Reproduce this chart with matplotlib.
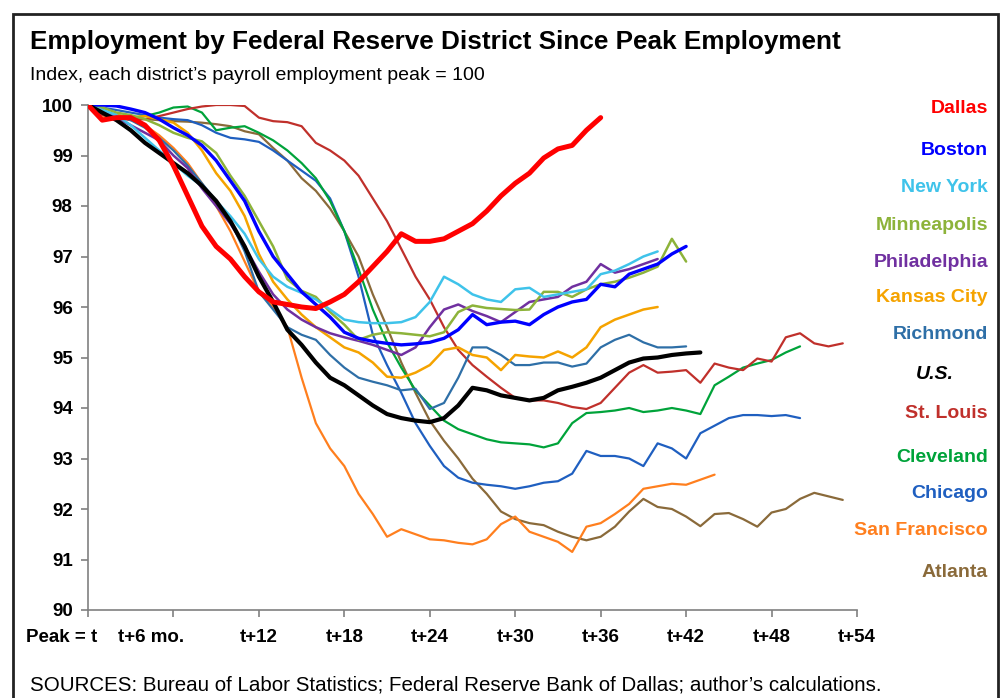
import matplotlib

matplotlib.use("Agg")
import matplotlib.pyplot as plt
from matplotlib.patches import Rectangle
from matplotlib.transforms import blended_transform_factory

plt.rcParams["font.family"] = ["Liberation Sans", "DejaVu Sans"]

# index values by month since peak (month 0 = peak)
dallas = [100, 99.7, 99.75, 99.75, 99.6, 99.3, 98.8, 98.2, 97.6, 97.2, 96.95, 96.6, 96.3,
          96.1, 96.05, 96.0, 95.97, 96.1, 96.25, 96.5, 96.8, 97.1, 97.45, 97.3, 97.3, 97.35,
          97.5, 97.65, 97.9, 98.2, 98.45, 98.65, 98.95, 99.13, 99.2, 99.5, 99.75]
boston = [100, 100, 99.98, 99.92, 99.85, 99.72, 99.55, 99.4, 99.2, 98.9, 98.5, 98.1, 97.5,
          97.0, 96.65, 96.3, 96.05, 95.8, 95.5, 95.38, 95.32, 95.28, 95.25, 95.27, 95.3, 95.38,
          95.55, 95.85, 95.65, 95.7, 95.72, 95.65, 95.85, 96.0, 96.1, 96.15, 96.45, 96.4,
          96.65, 96.75, 96.85, 97.05, 97.2]
new_york = [100, 99.9, 99.8, 99.6, 99.35, 99.1, 98.85, 98.6, 98.4, 98.1, 97.8, 97.45, 96.95,
            96.6, 96.4, 96.28, 96.15, 95.95, 95.75, 95.7, 95.68, 95.68, 95.7, 95.8, 96.1, 96.6,
            96.45, 96.25, 96.15, 96.1, 96.35, 96.38, 96.2, 96.25, 96.3, 96.35, 96.65, 96.72,
            96.85, 97.0, 97.1]
minneapolis = [100, 99.95, 99.85, 99.8, 99.72, 99.6, 99.45, 99.35, 99.28, 99.05, 98.6, 98.2,
               97.7, 97.2, 96.55, 96.32, 96.2, 95.9, 95.65, 95.35, 95.45, 95.5, 95.48, 95.45,
               95.42, 95.5, 95.9, 96.03, 95.98, 95.96, 95.94, 95.95, 96.3, 96.3, 96.2, 96.35,
               96.45, 96.5, 96.58, 96.68, 96.8, 97.35, 96.9]
philadelphia = [100, 99.9, 99.75, 99.6, 99.45, 99.3, 99.0, 98.75, 98.35, 98.0, 97.65, 97.2,
                96.7, 96.25, 95.95, 95.75, 95.6, 95.48, 95.4, 95.33, 95.25, 95.15, 95.05, 95.2,
                95.6, 95.95, 96.05, 95.92, 95.82, 95.7, 95.9, 96.1, 96.15, 96.2, 96.4, 96.5,
                96.85, 96.68, 96.75, 96.85, 96.95]
kansas_city = [100, 99.85, 99.8, 99.75, 99.78, 99.72, 99.65, 99.45, 99.1, 98.65, 98.3, 97.8,
               97.05, 96.5, 96.15, 95.85, 95.6, 95.4, 95.2, 95.1, 94.9, 94.62, 94.6, 94.7,
               94.85, 95.15, 95.2, 95.05, 95.0, 94.75, 95.05, 95.02, 95.0, 95.12, 95.0, 95.2,
               95.6, 95.75, 95.85, 95.95, 96.0]
richmond = [100, 99.9, 99.8, 99.7, 99.55, 99.35, 99.1, 98.8, 98.45, 98.1, 97.7, 97.1, 96.3,
            95.95, 95.6, 95.45, 95.35, 95.05, 94.8, 94.6, 94.52, 94.45, 94.35, 94.38, 93.98,
            94.1, 94.6, 95.2, 95.2, 95.05, 94.85, 94.85, 94.9, 94.9, 94.82, 94.88, 95.2, 95.35,
            95.45, 95.3, 95.2, 95.2, 95.22]
us = [100, 99.85, 99.7, 99.5, 99.25, 99.05, 98.85, 98.65, 98.4, 98.1, 97.7, 97.2, 96.6, 96.1,
      95.55, 95.25, 94.9, 94.6, 94.45, 94.25, 94.05, 93.88, 93.8, 93.75, 93.72, 93.8, 94.05,
      94.4, 94.35, 94.25, 94.2, 94.15, 94.2, 94.35, 94.42, 94.5, 94.6, 94.75, 94.9, 94.98,
      95.0, 95.05, 95.08, 95.1]
st_louis = [100, 99.8, 99.75, 99.7, 99.72, 99.78, 99.85, 99.92, 99.97, 100, 100, 99.98, 99.75,
            99.68, 99.66, 99.58, 99.25, 99.1, 98.9, 98.6, 98.15, 97.7, 97.15, 96.6, 96.15, 95.6,
            95.15, 94.85, 94.62, 94.4, 94.2, 94.15, 94.15, 94.1, 94.02, 93.98, 94.1, 94.4, 94.7,
            94.85, 94.7, 94.72, 94.75, 94.5, 94.88, 94.8, 94.75, 94.98, 94.92, 95.4, 95.48,
            95.28, 95.22, 95.28]
cleveland = [100, 99.85, 99.75, 99.75, 99.78, 99.85, 99.95, 99.97, 99.85, 99.5, 99.55, 99.58,
             99.45, 99.3, 99.1, 98.85, 98.55, 98.1, 97.5, 96.75, 95.95, 95.3, 94.8, 94.35,
             94.05, 93.75, 93.58, 93.48, 93.38, 93.32, 93.3, 93.28, 93.22, 93.3, 93.7, 93.9,
             93.92, 93.95, 94.0, 93.92, 93.95, 94.0, 93.95, 93.88, 94.45, 94.62, 94.8, 94.88,
             94.95, 95.1, 95.22]
chicago = [100, 99.95, 99.9, 99.85, 99.8, 99.75, 99.72, 99.7, 99.6, 99.45, 99.35, 99.32,
           99.27, 99.1, 98.9, 98.7, 98.5, 98.15, 97.5, 96.6, 95.45, 94.85, 94.3, 93.7, 93.25,
           92.85, 92.62, 92.52, 92.48, 92.45, 92.4, 92.45, 92.52, 92.55, 92.7, 93.15, 93.05,
           93.05, 93.0, 92.85, 93.3, 93.2, 93.0, 93.5, 93.65, 93.8, 93.86, 93.86, 93.84, 93.86,
           93.8]
san_francisco = [100, 99.75, 99.8, 99.75, 99.6, 99.4, 99.15, 98.85, 98.45, 98.0, 97.5, 96.9,
                 96.3, 96.0, 95.6, 94.6, 93.7, 93.2, 92.85, 92.3, 91.9, 91.45, 91.6, 91.5,
                 91.4, 91.38, 91.33, 91.3, 91.4, 91.7, 91.85, 91.55, 91.45, 91.35, 91.15, 91.65,
                 91.72, 91.9, 92.1, 92.4, 92.45, 92.5, 92.48, 92.58, 92.68]
atlanta = [100, 99.85, 99.8, 99.75, 99.72, 99.7, 99.68, 99.67, 99.65, 99.62, 99.58, 99.48,
           99.42, 99.15, 98.9, 98.55, 98.3, 97.95, 97.5, 97.0, 96.25, 95.6, 94.9, 94.3, 93.75,
           93.35, 93.0, 92.6, 92.3, 91.95, 91.8, 91.72, 91.68, 91.55, 91.45, 91.38, 91.45,
           91.65, 91.95, 92.2, 92.04, 92.0, 91.85, 91.66, 91.9, 91.92, 91.8, 91.65, 91.93,
           92.0, 92.2, 92.32, 92.25, 92.18]

x_labels = ["Peak = t", "t+6 mo.", "t+12", "t+18", "t+24", "t+30", "t+36", "t+42", "t+48", "t+54"]
y_ticks = [90, 91, 92, 93, 94, 95, 96, 97, 98, 99, 100]

# name, values, colour, line width, label y (data units)
series = [
    ("Atlanta", atlanta, "#8A6A3A", 1.6, 90.75),
    ("San Francisco", san_francisco, "#FF7F1E", 1.6, 91.58),
    ("Chicago", chicago, "#1F5FC0", 1.6, 92.3),
    ("Cleveland", cleveland, "#00A33A", 1.6, 93.01),
    ("St. Louis", st_louis, "#C0302B", 1.6, 93.9),
    ("Richmond", richmond, "#2E6FA7", 1.6, 95.45),
    ("Kansas City", kansas_city, "#F5A300", 1.8, 96.18),
    ("Philadelphia", philadelphia, "#7030A0", 1.8, 96.89),
    ("Minneapolis", minneapolis, "#8DB33A", 1.8, 97.62),
    ("New York", new_york, "#3FC3EA", 1.8, 98.36),
    ("Boston", boston, "#0000FF", 2.4, 99.09),
    ("U.S.", us, "#000000", 3.0, 94.67),
    ("Dallas", dallas, "#FF0000", 3.6, 99.94),
]

fig = plt.figure(figsize=(10.03, 6.98), dpi=100)
W, H = 1003, 698
ax = fig.add_axes([88 / W, 1 - 610 / H, (857 - 88) / W, (610 - 105) / H])

for name, vals, color, lw, _ in series:
    ax.plot(range(len(vals)), vals, color=color, lw=lw, solid_joinstyle="round",
            solid_capstyle="round", zorder=3)

ax.set_xlim(0, 54)
ax.set_ylim(90, 100)
ax.set_yticks(y_ticks)
ax.set_yticklabels([str(v) for v in y_ticks], fontsize=13.5, fontweight="bold")
ax.set_xticks(range(0, 55, 6))
ax.set_xticklabels([])
for side in ("top", "right"):
    ax.spines[side].set_visible(False)
for side in ("left", "bottom"):
    ax.spines[side].set_color("#808080")
    ax.spines[side].set_linewidth(1.2)
ax.tick_params(axis="both", color="#808080", length=5, width=1.2, direction="out", pad=6)

# x labels (first two sit left of their ticks in the original)
label_x = [-1.85, 4.4, 12, 18, 24, 30, 36, 42, 48, 54]
xtr = blended_transform_factory(ax.transData, fig.transFigure)
for lx, lab in zip(label_x, x_labels):
    ax.text(lx, 1 - 637 / H, lab, transform=xtr, ha="center", va="center",
            fontsize=13.5, fontweight="bold", clip_on=False)

# district labels on the right
rtr = blended_transform_factory(fig.transFigure, ax.transData)
for name, vals, color, lw, ly in series:
    if name == "U.S.":
        ax.text(935 / W, ly, name, transform=rtr, ha="center", va="center", fontsize=14,
                fontweight="bold", style="italic", color=color, clip_on=False)
    else:
        ax.text(988 / W, ly, name, transform=rtr, ha="right", va="center", fontsize=14,
                fontweight="bold", color=color, clip_on=False)

fig.text(30 / W, 1 - 42 / H, "Employment by Federal Reserve District Since Peak Employment",
         ha="left", va="center", fontsize=18.8, fontweight="bold")
fig.text(30 / W, 1 - 76 / H, "Index, each district\u2019s payroll employment peak = 100",
         ha="left", va="center", fontsize=14)
fig.text(30 / W, 1 - 685 / H,
         "SOURCES: Bureau of Labor Statistics; Federal Reserve Bank of Dallas; author\u2019s calculations.",
         ha="left", va="center", fontsize=14.8)

# frame around the whole chart
fig.patches.append(Rectangle((13 / W, -0.05), (998 - 13) / W, 1.05 - 14 / H,
                             transform=fig.transFigure, fill=False, edgecolor="#222222",
                             linewidth=2))

fig.savefig("out.png", dpi=100)
